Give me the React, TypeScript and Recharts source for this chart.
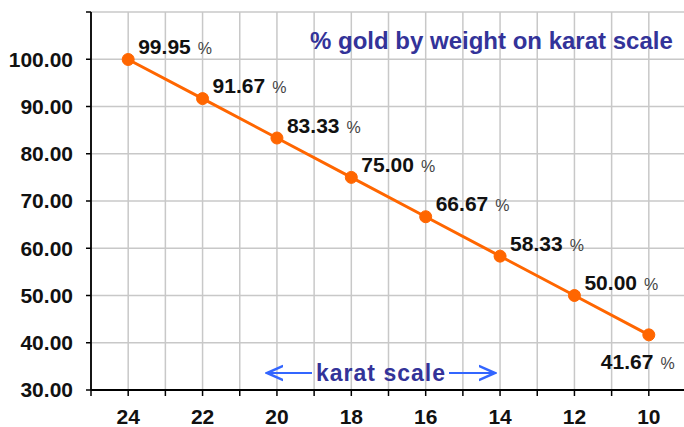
import { LineChart, Line, XAxis, YAxis, CartesianGrid, LabelList } from "recharts";

const karats = [24, 22, 20, 18, 16, 14, 12, 10];
const goldPct = [99.95, 91.67, 83.33, 75.0, 66.67, 58.33, 50.0, 41.67];
const yTicks = [30, 40, 50, 60, 70, 80, 90, 100, 110];
const xTicks = [10, 11, 12, 13, 14, 15, 16, 17, 18, 19, 20, 21, 22, 23, 24, 25];

const data = karats.map((k, i) => ({ karat: k, pct: goldPct[i] }));

const FONT = "'Liberation Sans', Arial, sans-serif";

function PointLabel(props: any) {
  const { x, y, value, index } = props;
  const last = index === goldPct.length - 1;
  const tx = last ? x - 48 : x + 10;
  const ty = last ? y + 27 : y - 13;
  return (
    <text x={tx} y={ty} dy="0.36em" fontFamily={FONT} fontSize={21} fill="#111">
      <tspan fontWeight="bold">{Number(value).toFixed(2)}</tspan>
      <tspan dx={7} fontSize={16} fill="#444">%</tspan>
    </text>
  );
}

export default function App() {
  return (
    <div style={{ position: "absolute", left: 0, top: 0, width: 684, height: 427, overflow: "hidden", background: "#fff" }}>
      <LineChart width={686} height={427} data={data} margin={{ top: 12, right: 0, bottom: 0, left: 0 }}>
        <defs>
          <marker id="arr" viewBox="0 0 10 10" refX="9" refY="5" markerWidth="9" markerHeight="9" orient="auto-start-reverse">
            <path d="M0,1 L9,5 L0,9" fill="none" stroke="#3366ff" strokeWidth={1.4} />
          </marker>
        </defs>
        <CartesianGrid stroke="#c8c8c8" strokeWidth={1.5} />
        <XAxis
          type="number"
          dataKey="karat"
          domain={[9, 25]}
          reversed
          ticks={xTicks}
          interval={0}
          tickFormatter={(v: number) => (v % 2 === 0 && v <= 24 ? String(v) : "")}
          height={37}
          tickSize={6}
          tickMargin={13}
          axisLine={{ stroke: "#000", strokeWidth: 1.8 }}
          tickLine={{ stroke: "#000", strokeWidth: 1.5 }}
          tick={{ fill: "#111", fontSize: 21, fontWeight: "bold", fontFamily: FONT }}
        />
        <YAxis
          type="number"
          domain={[30, 110]}
          ticks={yTicks}
          interval={0}
          tickFormatter={(v: number) => (v === 110 ? "" : v.toFixed(2))}
          width={91}
          tickSize={5}
          tickMargin={13}
          axisLine={{ stroke: "#000", strokeWidth: 1.8 }}
          tickLine={{ stroke: "#000", strokeWidth: 1.5 }}
          tick={{ fill: "#111", fontSize: 21, fontWeight: "bold", fontFamily: FONT }}
        />
        <Line
          type="linear"
          dataKey="pct"
          stroke="#ff6600"
          strokeWidth={3}
          dot={{ r: 6, fill: "#ff6600", stroke: "#ff6600", strokeWidth: 1 }}
          isAnimationActive={false}
        >
          <LabelList dataKey="pct" content={PointLabel} />
        </Line>
        <text x={310} y={49} fontFamily={FONT} fontSize={24} fontWeight="bold" fill="#333399">
          % gold by weight on karat scale
        </text>
        <line x1={312} y1={373} x2={267} y2={373} stroke="#3366ff" strokeWidth={2} markerEnd="url(#arr)" />
        <line x1={449} y1={373} x2={495} y2={373} stroke="#3366ff" strokeWidth={2} markerEnd="url(#arr)" />
        <text x={381} y={373} dy="0.36em" textAnchor="middle" fontFamily={FONT} fontSize={23} fontWeight="bold" letterSpacing={1} fill="#333399">
          karat scale
        </text>
      </LineChart>
    </div>
  );
}
